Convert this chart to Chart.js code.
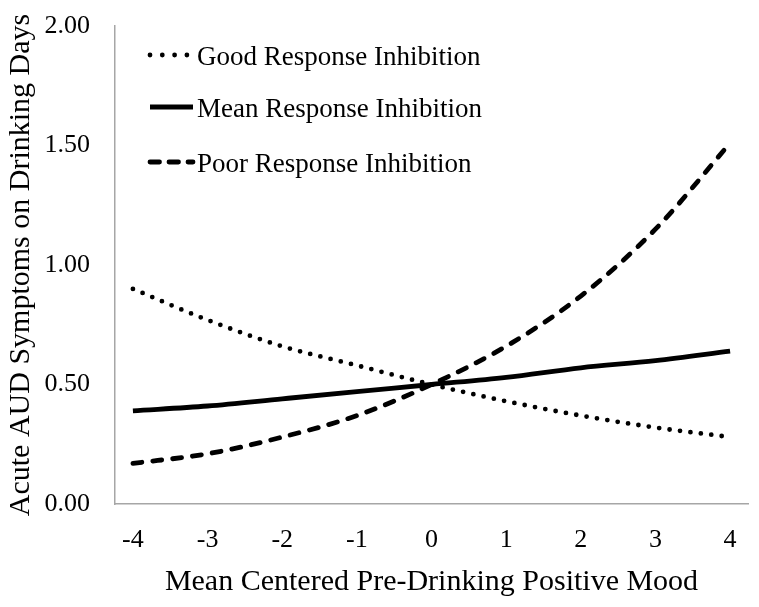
<!DOCTYPE html>
<html>
<head>
<meta charset="utf-8">
<script src="https://cdn.jsdelivr.net/npm/chart.js@4.4.0/dist/chart.umd.min.js"></script>
<style>
html,body{margin:0;padding:0;background:#fff;}
#wrap{width:759px;height:607px;position:relative;}
</style>
</head>
<body>
<div id="wrap"><canvas id="c" width="759" height="607"></canvas></div>
<script>
// ---- data ----
const moodValues = [-4, -3, -2, -1, 0, 1, 2, 3, 4];
const seriesNames = ["Good Response Inhibition", "Mean Response Inhibition", "Poor Response Inhibition"];
const goodValues = [0.90, 0.77, 0.66, 0.58, 0.50, 0.43, 0.37, 0.32, 0.28];
const meanValues = [0.39, 0.41, 0.44, 0.47, 0.50, 0.53, 0.57, 0.60, 0.64];
const poorValues = [0.17, 0.21, 0.28, 0.37, 0.50, 0.66, 0.87, 1.15, 1.51];
const yTicks = [0, 0.5, 1.0, 1.5, 2.0];
const xTitle = "Mean Centered Pre-Drinking Positive Mood";
const yTitle = "Acute AUD Symptoms on Drinking Days";

const FONT = "'Liberation Serif', 'Times New Roman', serif";
const toPts = vals => moodValues.map((x, i) => ({x: x, y: vals[i]}));

const styles = [
  {borderDash: [0, 10.5], borderCapStyle: 'round', legendDash: [0, 12.3]},
  {borderDash: [], borderCapStyle: 'butt', legendDash: []},
  {borderDash: [9, 11], borderCapStyle: 'round', legendDash: [9.5, 9.5]}
];
const allValues = [goodValues, meanValues, poorValues];

const datasets = allValues.map((vals, i) => ({
  label: seriesNames[i],
  data: toPts(vals),
  borderColor: '#000',
  backgroundColor: '#000',
  borderWidth: 4.8,
  borderDash: styles[i].borderDash,
  borderCapStyle: styles[i].borderCapStyle,
  borderJoinStyle: 'round',
  pointRadius: 0,
  cubicInterpolationMode: 'monotone',
  fill: false
}));

const legendPlugin = {
  id: 'insideLegend',
  afterDatasetsDraw(chart) {
    const ctx = chart.ctx;
    const rows = [55, 107, 162];
    ctx.save();
    chart.data.datasets.forEach((ds, i) => {
      const y = rows[i];
      ctx.beginPath();
      ctx.lineWidth = ds.borderWidth;
      ctx.strokeStyle = ds.borderColor;
      ctx.lineCap = ds.borderCapStyle;
      ctx.setLineDash(styles[i].legendDash);
      ctx.moveTo(150, y);
      ctx.lineTo(193, y);
      ctx.stroke();
      ctx.setLineDash([]);
      ctx.fillStyle = '#000';
      ctx.font = "27px " + FONT;
      ctx.textAlign = 'left';
      ctx.textBaseline = 'middle';
      ctx.fillText(ds.label, 197, y + 3);
    });
    ctx.restore();
  }
};

new Chart(document.getElementById('c'), {
  type: 'line',
  data: {datasets: datasets},
  options: {
    responsive: false,
    animation: false,
    devicePixelRatio: 1,
    layout: {padding: {top: 26, right: 11, left: 0, bottom: 0}},
    plugins: {legend: {display: false}, tooltip: {enabled: false}},
    scales: {
      x: {
        type: 'linear',
        min: -4.24,
        max: 4.24,
        afterBuildTicks: s => { s.ticks = moodValues.map(v => ({value: v})); },
        afterFit: s => { s.height = 103; s.paddingLeft = 0; s.paddingRight = 0; },
        grid: {display: false, drawTicks: false},
        border: {display: true, color: '#a6a6a6', width: 1.5},
        ticks: {
          padding: 21,
          color: '#000',
          font: {family: FONT, size: 26},
          callback: v => String(v),
          maxRotation: 0,
          autoSkip: false
        },
        title: {
          display: true,
          text: xTitle,
          color: '#000',
          font: {family: FONT, size: 30},
          padding: {top: 0, bottom: 7}
        }
      },
      y: {
        type: 'linear',
        min: 0,
        max: 2,
        afterBuildTicks: s => { s.ticks = yTicks.map(v => ({value: v})); },
        afterFit: s => { s.width = 115; s.paddingTop = 0; s.paddingBottom = 0; },
        grid: {display: false, drawTicks: false},
        border: {display: true, color: '#a6a6a6', width: 1.5},
        ticks: {
          padding: 25,
          color: '#000',
          font: {family: FONT, size: 26},
          callback: v => Number(v).toFixed(2)
        },
        title: {
          display: true,
          text: yTitle,
          color: '#000',
          font: {family: FONT, size: 30},
          padding: {top: 3, bottom: 0}
        }
      }
    }
  },
  plugins: [legendPlugin]
});
</script>
</body>
</html>
